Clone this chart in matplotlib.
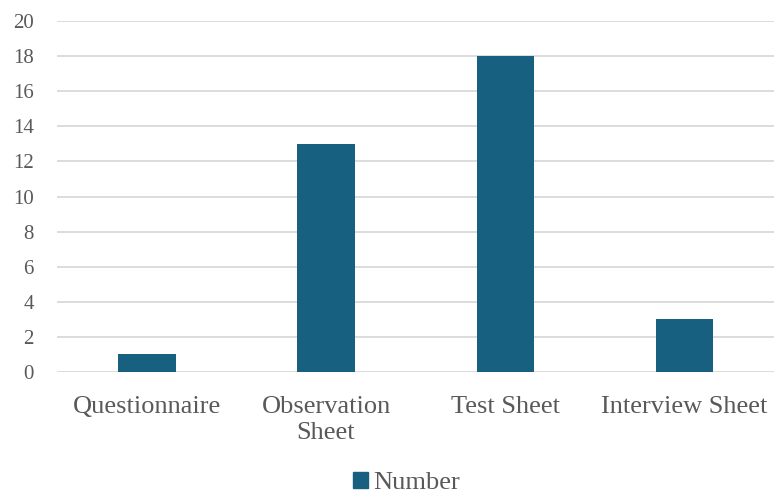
import matplotlib
matplotlib.use("Agg")
from matplotlib import pyplot as plt
from matplotlib.patches import Patch

categories = ["Questionnaire", "Observation\nSheet", "Test Sheet", "Interview Sheet"]
numbers = [1, 13, 18, 3]
yticks = [0, 2, 4, 6, 8, 10, 12, 14, 16, 18, 20]

bar_color = "#17607F"
text_color = "#595959"

plt.rcParams['font.family'] = ['Liberation Serif', 'DejaVu Serif']

fig = plt.figure(figsize=(7.74, 4.95), dpi=100)
ax = fig.add_axes([0.074, 0.2485, 0.926, 0.709])

ax.bar(range(len(numbers)), numbers, width=0.32, color=bar_color, zorder=3)

ax.set_xlim(-0.5, len(numbers) - 0.5)
ax.set_ylim(0, 20)
ax.set_yticks(yticks)
ax.set_yticklabels([str(t) for t in yticks], fontsize=15, color=text_color)
ax.set_xticks(range(len(categories)))
ax.set_xticklabels(categories, fontsize=19, color=text_color, linespacing=1.25)

ax.grid(axis='y', color="#d9d9d9", linewidth=1.3, zorder=0)
for side in ax.spines.values():
    side.set_visible(False)
ax.tick_params(axis='both', length=0)
ax.tick_params(axis='y', pad=17)
ax.tick_params(axis='x', pad=17)

fig.legend(handles=[Patch(color=bar_color, label="Number")], loc='center',
           bbox_to_anchor=(0.525, 0.024), frameon=False, fontsize=19,
           handlelength=0.55, handleheight=0.55, handletextpad=0.2,
           labelcolor=text_color)

fig.savefig("out.png", dpi=100)
